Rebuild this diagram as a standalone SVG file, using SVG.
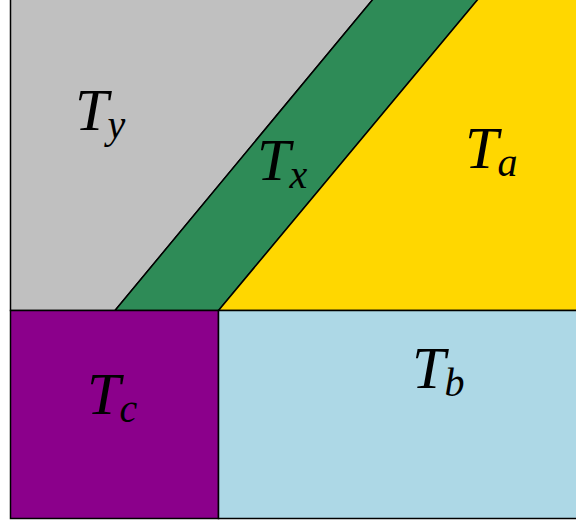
<svg xmlns="http://www.w3.org/2000/svg" width="576" height="522" viewBox="0 0 576 522">
<style>
.r{stroke:#000;stroke-width:1.5;stroke-linejoin:miter}
.t{font-family:"Liberation Serif","DejaVu Serif",serif;font-style:italic;font-size:60px;fill:#000}
.s{font-size:40px}
</style>
<rect width="576" height="522" fill="#fff"/>
<g id="Ty"><polygon class="r" points="10.5,-2 374,-2 115,310.5 10.5,310.5" fill="#c0c0c0"/>
<text class="t" x="75" y="130">T<tspan class="s" dx="-1" dy="8">y</tspan></text></g>
<g id="Tx"><polygon class="r" points="374,-2 479,-2 218.5,310.5 115,310.5" fill="#2e8b57"/>
<text class="t" x="257" y="180">T<tspan class="s" dx="-1" dy="8">x</tspan></text></g>
<g id="Ta"><polygon class="r" points="479,-2 580,-2 580,310.5 218.5,310.5" fill="#ffd700"/>
<text class="t" x="465" y="168">T<tspan class="s" dx="-1" dy="8">a</tspan></text></g>
<g id="Tc"><rect class="r" x="10.5" y="310.5" width="208" height="208" fill="#8b008b"/>
<text class="t" x="87" y="414">T<tspan class="s" dx="-1" dy="8">c</tspan></text></g>
<g id="Tb"><rect class="r" x="218.5" y="310.5" width="362" height="208" fill="#add8e6"/>
<text class="t" x="412" y="388">T<tspan class="s" dx="-1" dy="8">b</tspan></text></g>
<g id="connectors"></g>
</svg>
